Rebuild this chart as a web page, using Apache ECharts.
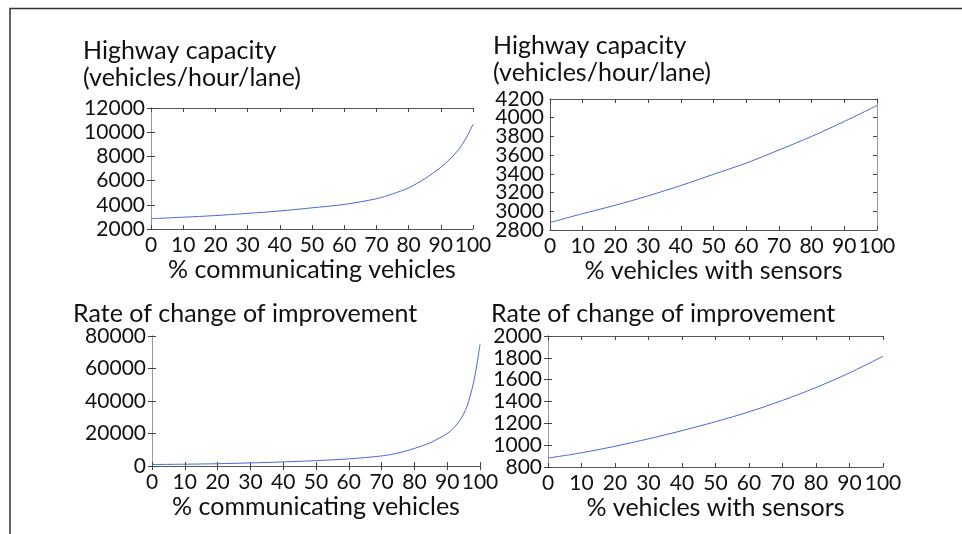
<!DOCTYPE html>
<html>
<head>
<meta charset="utf-8">
<script src="https://cdn.jsdelivr.net/npm/echarts@6/dist/echarts.min.js"></script>
<style>
html,body{margin:0;padding:0;background:#fff;}
#c{width:962px;height:534px;}
</style>
</head>
<body>
<div id="c"></div>
<script>
// ---- data ----
const pctComm = [0,10,20,30,40,50,60,70,75,80,85,90,92.5,95,97.5,100];
const capacityComm = [2850,2975,3110,3290,3490,3750,4030,4500,4900,5400,6150,7100,7680,8400,9350,10650];

const pctSens = [0,10,20,30,40,50,60,70,80,90,100];
const capacitySens = [2880,2975,3065,3165,3275,3395,3515,3655,3800,3960,4130];

const pctCommRate = [0,10,20,30,40,50,60,70,75,80,85,90,92,94,95,96,97,98,98.5,99,99.5,100];
const rateComm = [900,1100,1400,1900,2500,3300,4400,6200,8000,10800,14500,20000,23500,28500,32000,36500,43000,51000,56000,62000,68000,75000];

const pctSensRate = [0,10,20,30,40,50,60,70,80,90,100];
const rateSens = [882,930,990,1058,1133,1215,1305,1410,1528,1662,1814];

const titles = ['Highway capacity\n(vehicles/hour/lane)','Highway capacity\n(vehicles/hour/lane)','Rate of change of improvement','Rate of change of improvement'];
const xNames = ['% communicating vehicles','% vehicles with sensors','% communicating vehicles','% vehicles with sensors'];
const yRanges = [[2000,12000,2000],[2800,4200,200],[0,80000,20000],[800,2000,200]];

// ---- layout ----
const FONT = 'Lato';
const grids = [
  {left:151, top:108, width:322, height:121},
  {left:550, top:99, width:327, height:131},
  {left:152, top:336, width:328, height:130},
  {left:548, top:336, width:335, height:131}
];
const titlePos = [[83,37],[493,32],[73,300],[491,300]];

const seriesData = [
  pctComm.map((x,i)=>[x,capacityComm[i]]),
  pctSens.map((x,i)=>[x,capacitySens[i]]),
  pctCommRate.map((x,i)=>[x,rateComm[i]]),
  pctSensRate.map((x,i)=>[x,rateSens[i]])
];

const plain = v => String(v);
const xAxis = [], yAxis = [], series = [], title = [];
const tickStyle = {show:true, inside:true, length:4, lineStyle:{color:'#444', width:1}};
const labelBase = {fontFamily:FONT, fontSize:21, color:'#111', margin:6};
grids.forEach((g,i)=>{
  xAxis.push({gridIndex:i, type:'value', min:0, max:100, interval:10, position:'bottom',
    name:xNames[i], nameLocation:'middle', nameGap:28,
    nameTextStyle:{fontFamily:FONT, fontSize:25, color:'#111'},
    axisLine:{show:true, lineStyle:{color:'#555', width:1}},
    axisTick:tickStyle, splitLine:{show:false},
    axisLabel:Object.assign({formatter:plain, showMinLabel:true, showMaxLabel:true}, labelBase)});
  xAxis.push({gridIndex:i, type:'value', min:0, max:100, interval:10, position:'top',
    axisLine:{show:true, lineStyle:{color:'#555', width:1}},
    axisTick:tickStyle, splitLine:{show:false}, axisLabel:{show:false}});
  const r = yRanges[i];
  const tight = (i === 1);
  const stepIdx = v => Math.round((v - r[0]) / r[2]);
  series.push({type:'line', xAxisIndex:2*i, yAxisIndex:yAxis.length, data:seriesData[i],
    showSymbol:false, smooth:0.3,
    lineStyle:{color:'#4a68d8', width:1}});
  yAxis.push({gridIndex:i, type:'value', min:r[0], max:r[1], interval:r[2], position:'left',
    axisLine:{show:true, lineStyle:{color:'#555', width:1}},
    axisTick:tickStyle, splitLine:{show:false},
    axisLabel:Object.assign({
      formatter: tight ? (v => stepIdx(v) % 2 === 0 ? String(v) : '') : plain,
      showMinLabel:true, showMaxLabel: tight ? false : true}, labelBase)});
  if (tight) {
    yAxis.push({gridIndex:i, type:'value', min:r[0], max:r[1], interval:r[2], position:'left',
      axisLine:{show:false}, axisTick:{show:false}, splitLine:{show:false},
      axisLabel:Object.assign({
        formatter: v => stepIdx(v) % 2 === 1 ? String(v) : '',
        showMinLabel:false, showMaxLabel:true}, labelBase)});
  }
  yAxis.push({gridIndex:i, type:'value', min:r[0], max:r[1], interval:r[2], position:'right',
    axisLine:{show:true, lineStyle:{color:'#999', width:1}},
    axisTick:tickStyle, splitLine:{show:false}, axisLabel:{show:false}});
  title.push({text:titles[i], left:titlePos[i][0], top:titlePos[i][1], padding:0,
    textStyle:{fontFamily:FONT, fontSize:25, fontWeight:'normal', color:'#111', lineHeight:27}});
});

const chart = echarts.init(document.getElementById('c'), null, {renderer:'canvas'});
chart.setOption({
  animation:false,
  backgroundColor:'#fff',
  title:title,
  grid:grids,
  xAxis:xAxis,
  yAxis:yAxis,
  series:series,
  graphic:[{type:'polyline', shape:{points:[[10,534],[10,8.5],[962,8.5]]},
    style:{stroke:'#333', lineWidth:1.5, fill:null}, silent:true}]
});
</script>
</body>
</html>
